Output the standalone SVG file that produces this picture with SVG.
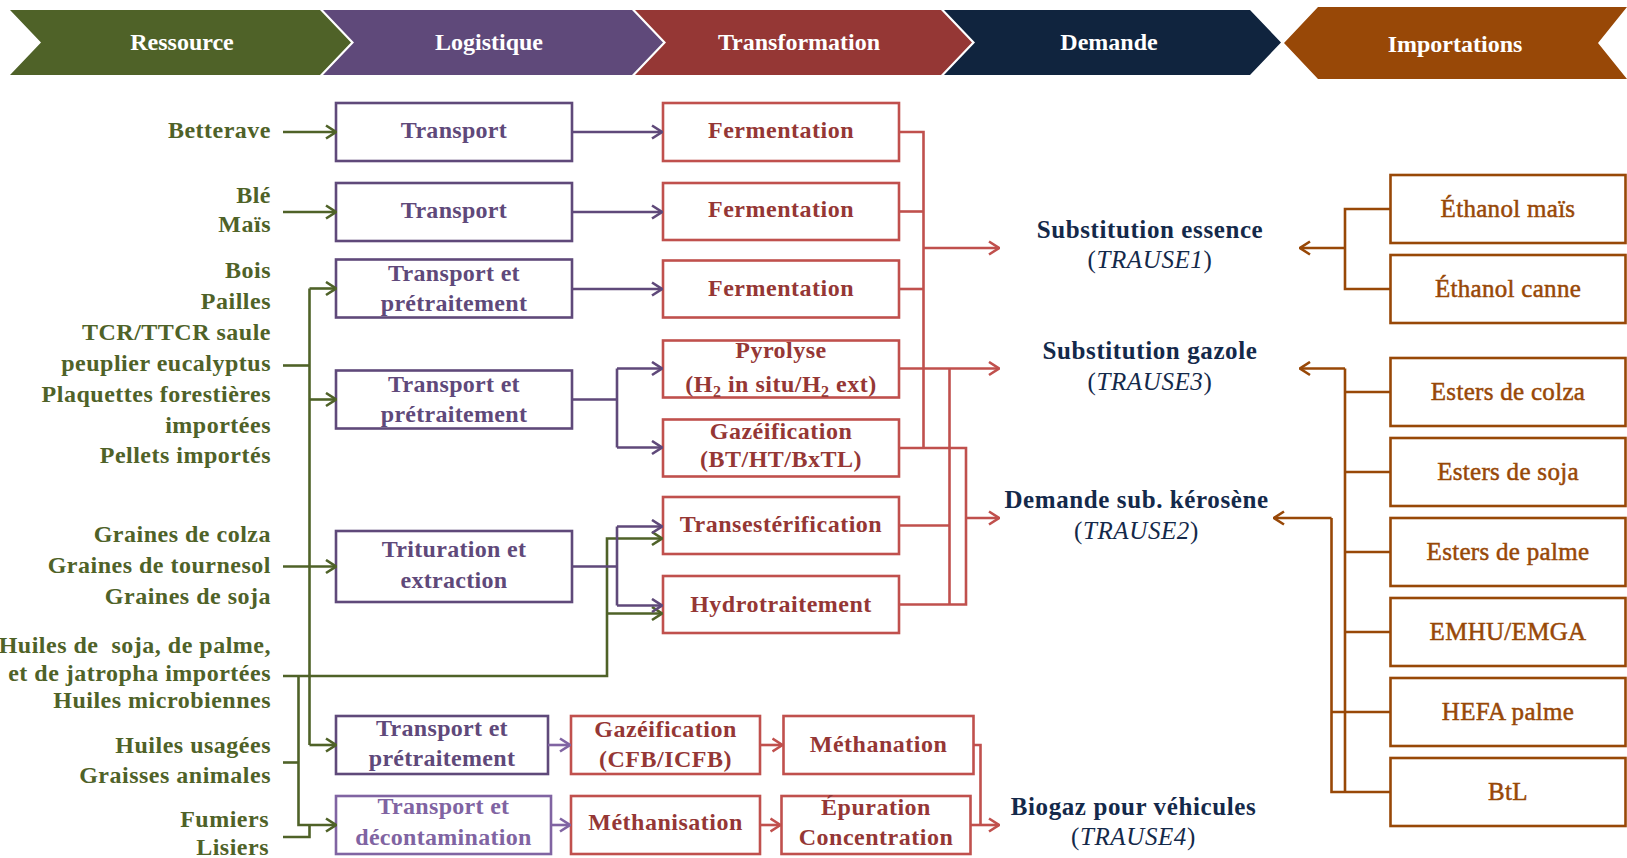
<svg xmlns="http://www.w3.org/2000/svg" width="1627" height="858" viewBox="0 0 1627 858">
<style>
text{font-family:"Liberation Serif","Times New Roman",serif}
.ban{font-weight:bold;font-size:24px;fill:#fff;text-anchor:middle}
.lbl{font-weight:bold;font-size:24px;fill:#4F6228;text-anchor:end;letter-spacing:0.5px}
.box{fill:#fff;stroke-width:2.6}
.pb{stroke:#5F497A}.lpb{stroke:#8064A2}.rb{stroke:#C0504D}.ob{stroke:#984807}
.t{font-weight:bold;font-size:24px;text-anchor:middle}
.pt{fill:#5F497A;letter-spacing:0.3px}.lpt{fill:#8064A2;letter-spacing:0.3px}.rt{fill:#953735;letter-spacing:0.5px}
.ot{font-size:25px;text-anchor:middle;fill:#984807;stroke:#984807;stroke-width:0.5;letter-spacing:0.3px}
.dt{font-weight:bold;font-size:25px;text-anchor:middle;fill:#14294A;letter-spacing:0.6px}
.ds{font-weight:normal}
.c{fill:none;stroke-width:2.6}
.cg{stroke:#4F6228}.cp{stroke:#5F497A}.clp{stroke:#8064A2}.cr{stroke:#C0504D}.co{stroke:#984807}
</style>
<defs>
<marker id="ag" viewBox="0 0 12 16" refX="11" refY="8" markerWidth="12" markerHeight="16" markerUnits="userSpaceOnUse" orient="auto"><path d="M1,1.5 L11,8 L1,14.5" fill="none" stroke="#4F6228" stroke-width="2.6"/></marker>
<marker id="ap" viewBox="0 0 12 16" refX="11" refY="8" markerWidth="12" markerHeight="16" markerUnits="userSpaceOnUse" orient="auto"><path d="M1,1.5 L11,8 L1,14.5" fill="none" stroke="#5F497A" stroke-width="2.6"/></marker>
<marker id="alp" viewBox="0 0 12 16" refX="11" refY="8" markerWidth="12" markerHeight="16" markerUnits="userSpaceOnUse" orient="auto"><path d="M1,1.5 L11,8 L1,14.5" fill="none" stroke="#8064A2" stroke-width="2.6"/></marker>
<marker id="ar" viewBox="0 0 12 16" refX="11" refY="8" markerWidth="12" markerHeight="16" markerUnits="userSpaceOnUse" orient="auto"><path d="M1,1.5 L11,8 L1,14.5" fill="none" stroke="#C0504D" stroke-width="2.6"/></marker>
<marker id="ao" viewBox="0 0 12 16" refX="11" refY="8" markerWidth="12" markerHeight="16" markerUnits="userSpaceOnUse" orient="auto"><path d="M1,1.5 L11,8 L1,14.5" fill="none" stroke="#984807" stroke-width="2.6"/></marker>
</defs>
<rect width="1627" height="858" fill="#fff"/>

<g id="banners">
<g id="ban-ressource"><polygon points="10,10 320,10 351,42.5 320,75 10,75 41,42.5" fill="#4F6228"/><text class="ban" x="182" y="50">Ressource</text></g>
<g id="ban-logistique"><polygon points="323,10 632,10 663,42.5 632,75 323,75 354,42.5" fill="#5F497A"/><text class="ban" x="489" y="50">Logistique</text></g>
<g id="ban-transformation"><polygon points="635,10 941,10 972,42.5 941,75 635,75 666,42.5" fill="#953735"/><text class="ban" x="799" y="50">Transformation</text></g>
<g id="ban-demande"><polygon points="944,10 1250,10 1281,42.5 1250,75 944,75 975,42.5" fill="#10243E"/><text class="ban" x="1109" y="50">Demande</text></g>
<g id="ban-importations"><polygon points="1284,43 1318,7 1627,7 1598,43 1627,79 1318,79" fill="#984807"/><text class="ban" x="1455" y="52">Importations</text></g>
</g>

<g id="ressources">
<g id="res-betterave"><text class="lbl" x="271" y="138">Betterave</text></g>
<g id="res-ble-mais"><text class="lbl" x="271" y="203">Blé</text><text class="lbl" x="271" y="232">Maïs</text></g>
<g id="res-bois"><text class="lbl" x="271" y="278">Bois</text><text class="lbl" x="271" y="309">Pailles</text><text class="lbl" x="271" y="340">TCR/TTCR saule</text><text class="lbl" x="271" y="371">peuplier eucalyptus</text><text class="lbl" x="271" y="402">Plaquettes forestières</text><text class="lbl" x="271" y="433">importées</text><text class="lbl" x="271" y="463">Pellets importés</text></g>
<g id="res-graines"><text class="lbl" x="271" y="542">Graines de colza</text><text class="lbl" x="271" y="573">Graines de tournesol</text><text class="lbl" x="271" y="604">Graines de soja</text></g>
<g id="res-huiles"><text class="lbl" x="271" y="653" xml:space="preserve">Huiles de  soja, de palme,</text><text class="lbl" x="271" y="681">et de jatropha importées</text><text class="lbl" x="271" y="708">Huiles microbiennes</text></g>
<g id="res-usagees"><text class="lbl" x="271" y="753">Huiles usagées</text><text class="lbl" x="271" y="783">Graisses animales</text></g>
<g id="res-fumiers"><text class="lbl" x="269" y="827">Fumiers</text><text class="lbl" x="269" y="855">Lisiers</text></g>
</g>

<g id="logistique">
<g id="log-transport1"><rect class="box pb" x="336" y="103" width="236" height="58"/><text class="t pt" x="454" y="138">Transport</text></g>
<g id="log-transport2"><rect class="box pb" x="336" y="183" width="236" height="58"/><text class="t pt" x="454" y="218">Transport</text></g>
<g id="log-tep1"><rect class="box pb" x="336" y="259.5" width="236" height="58"/><text class="t pt" x="454" y="281">Transport et</text><text class="t pt" x="454" y="311">prétraitement</text></g>
<g id="log-tep2"><rect class="box pb" x="336" y="370.5" width="236" height="58"/><text class="t pt" x="454" y="392">Transport et</text><text class="t pt" x="454" y="422">prétraitement</text></g>
<g id="log-trituration"><rect class="box pb" x="336" y="531" width="236" height="71"/><text class="t pt" x="454" y="557">Trituration et</text><text class="t pt" x="454" y="588">extraction</text></g>
<g id="log-tep3"><rect class="box pb" x="336" y="716" width="212" height="58"/><text class="t pt" x="442" y="736">Transport et</text><text class="t pt" x="442" y="766">prétraitement</text></g>
<g id="log-decontamination"><rect class="box lpb" x="336" y="796" width="215" height="58"/><text class="t lpt" x="443.5" y="814">Transport et</text><text class="t lpt" x="443.5" y="845">décontamination</text></g>
</g>

<g id="transformation">
<g id="tr-ferm1"><rect class="box rb" x="663" y="103" width="236" height="58"/><text class="t rt" x="781" y="138">Fermentation</text></g>
<g id="tr-ferm2"><rect class="box rb" x="663" y="183" width="236" height="57"/><text class="t rt" x="781" y="217">Fermentation</text></g>
<g id="tr-ferm3"><rect class="box rb" x="663" y="260.5" width="236" height="57"/><text class="t rt" x="781" y="296">Fermentation</text></g>
<g id="tr-pyrolyse"><rect class="box rb" x="663" y="340.5" width="236" height="57"/><text class="t rt" x="781" y="358">Pyrolyse</text><text class="t rt" x="781" y="392">(H<tspan font-size="16" dy="5">2</tspan><tspan dy="-5"> in situ/H</tspan><tspan font-size="16" dy="5">2</tspan><tspan dy="-5"> ext)</tspan></text></g>
<g id="tr-gazeif"><rect class="box rb" x="663" y="419.5" width="236" height="57"/><text class="t rt" x="781" y="438.5">Gazéification</text><text class="t rt" x="781" y="467">(BT/HT/BxTL)</text></g>
<g id="tr-transest"><rect class="box rb" x="663" y="497" width="236" height="57"/><text class="t rt" x="781" y="532">Transestérification</text></g>
<g id="tr-hydro"><rect class="box rb" x="663" y="576" width="236" height="57"/><text class="t rt" x="781" y="612">Hydrotraitement</text></g>
<g id="tr-gazeif-cfb"><rect class="box rb" x="571" y="716" width="189" height="58"/><text class="t rt" x="665.5" y="737">Gazéification</text><text class="t rt" x="665.5" y="767">(CFB/ICFB)</text></g>
<g id="tr-methanation"><rect class="box rb" x="783.5" y="716" width="190" height="58"/><text class="t rt" x="878.5" y="752">Méthanation</text></g>
<g id="tr-methanisation"><rect class="box rb" x="571" y="796" width="189" height="58"/><text class="t rt" x="665.5" y="830">Méthanisation</text></g>
<g id="tr-epuration"><rect class="box rb" x="781.5" y="796" width="189" height="58"/><text class="t rt" x="876" y="815">Épuration</text><text class="t rt" x="876" y="845">Concentration</text></g>
</g>

<g id="demande">
<g id="dem-essence"><text class="dt" x="1150" y="238">Substitution essence</text><text class="dt ds" x="1150" y="268">(<tspan font-style="italic">TRAUSE1</tspan>)</text></g>
<g id="dem-gazole"><text class="dt" x="1150" y="359">Substitution gazole</text><text class="dt ds" x="1150" y="390">(<tspan font-style="italic">TRAUSE3</tspan>)</text></g>
<g id="dem-kerosene"><text class="dt" x="1136.5" y="508">Demande sub. kérosène</text><text class="dt ds" x="1136.5" y="539">(<tspan font-style="italic">TRAUSE2</tspan>)</text></g>
<g id="dem-biogaz"><text class="dt" x="1133.5" y="815">Biogaz pour véhicules</text><text class="dt ds" x="1133.5" y="845">(<tspan font-style="italic">TRAUSE4</tspan>)</text></g>
</g>

<g id="importations">
<g id="imp-ethanol-mais"><rect class="box ob" x="1390.5" y="175" width="235" height="68"/><text class="ot" x="1508" y="217">Éthanol maïs</text></g>
<g id="imp-ethanol-canne"><rect class="box ob" x="1390.5" y="255" width="235" height="68"/><text class="ot" x="1508" y="297">Éthanol canne</text></g>
<g id="imp-esters-colza"><rect class="box ob" x="1390.5" y="358" width="235" height="68"/><text class="ot" x="1508" y="400">Esters de colza</text></g>
<g id="imp-esters-soja"><rect class="box ob" x="1390.5" y="438" width="235" height="68"/><text class="ot" x="1508" y="480">Esters de soja</text></g>
<g id="imp-esters-palme"><rect class="box ob" x="1390.5" y="518" width="235" height="68"/><text class="ot" x="1508" y="560">Esters de palme</text></g>
<g id="imp-emhu"><rect class="box ob" x="1390.5" y="598" width="235" height="68"/><text class="ot" x="1508" y="640">EMHU/EMGA</text></g>
<g id="imp-hefa"><rect class="box ob" x="1390.5" y="678" width="235" height="68"/><text class="ot" x="1508" y="720">HEFA palme</text></g>
<g id="imp-btl"><rect class="box ob" x="1390.5" y="758" width="235" height="68"/><text class="ot" x="1508" y="800">BtL</text></g>
</g>

<g id="connectors">
<g class="c cg">
<path d="M283,132 H336" marker-end="url(#ag)"/>
<path d="M283,212 H336" marker-end="url(#ag)"/>
<path d="M283,365.5 H309.5"/>
<path d="M309.5,288.5 V745"/>
<path d="M309.5,288.5 H336" marker-end="url(#ag)"/>
<path d="M309.5,399.5 H336" marker-end="url(#ag)"/>
<path d="M309.5,745 H336" marker-end="url(#ag)"/>
<path d="M283,566.5 H336" marker-end="url(#ag)"/>
<path d="M283,676 H607 V538.5 H662" marker-end="url(#ag)"/>
<path d="M607,613.5 H662" marker-end="url(#ag)"/>
<path d="M298.5,676 V825 H336" marker-end="url(#ag)"/>
<path d="M283,762.5 H298.5"/>
<path d="M283,837 H309.5 V825"/>
</g>
<g class="c cp">
<path d="M572,132 H662" marker-end="url(#ap)"/>
<path d="M572,212 H662" marker-end="url(#ap)"/>
<path d="M572,289 H662" marker-end="url(#ap)"/>
<path d="M572,399.5 H617 M617,368.5 V447.5"/>
<path d="M617,368.5 H662" marker-end="url(#ap)"/>
<path d="M617,447.5 H662" marker-end="url(#ap)"/>
<path d="M572,566.5 H617 M617,526.5 V605.5"/>
<path d="M617,526.5 H662" marker-end="url(#ap)"/>
<path d="M617,605.5 H662" marker-end="url(#ap)"/>
</g>
<g class="c clp">
<path d="M548,745 H570" marker-end="url(#alp)"/>
<path d="M551,825 H570" marker-end="url(#alp)"/>
</g>
<g class="c cr">
<path d="M899,132 H923.5 V448"/>
<path d="M899,211.5 H923.5"/>
<path d="M899,289 H923.5"/>
<path d="M923.5,248 H999" marker-end="url(#ar)"/>
<path d="M899,368.5 H999" marker-end="url(#ar)"/>
<path d="M949.5,368.5 V604.5"/>
<path d="M899,525.5 H949.5"/>
<path d="M899,448 H966 V604.5 H899"/>
<path d="M966,518 H999" marker-end="url(#ar)"/>
<path d="M760,745 H782.5" marker-end="url(#ar)"/>
<path d="M760,825 H780.5" marker-end="url(#ar)"/>
<path d="M973.5,745 H980.5 V825"/>
<path d="M970.5,825 H999" marker-end="url(#ar)"/>
</g>
<g class="c co">
<path d="M1390.5,209 H1345 V289 H1390.5"/>
<path d="M1345,248 H1300" marker-end="url(#ao)"/>
<path d="M1345,368.5 H1300" marker-end="url(#ao)"/>
<path d="M1345,368.5 V792"/>
<path d="M1345,392 H1390.5 M1345,472 H1390.5 M1345,552 H1390.5 M1345,632 H1390.5 M1345,712 H1390.5 M1345,792 H1390.5"/>
<path d="M1331.5,518 V792 H1345 M1331.5,712 H1345"/>
<path d="M1331.5,518 H1274" marker-end="url(#ao)"/>
</g>
</g>
</svg>
